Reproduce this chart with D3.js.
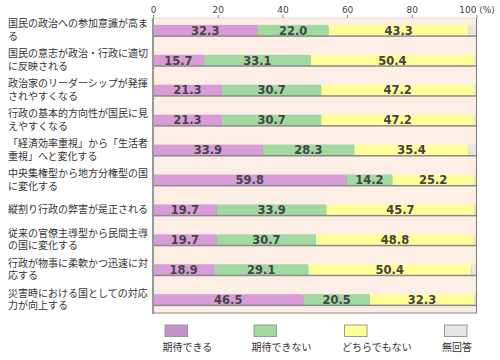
<!DOCTYPE html>
<html><head><meta charset="utf-8">
<script src="https://cdn.jsdelivr.net/npm/d3@7"></script>
<style>
html,body{margin:0;padding:0;background:#fff;}
svg{display:block;}
</style></head>
<body><svg id="c" width="500" height="360"></svg>
<script>
const categories = [
  "国民の政治への参加意識が高ま\nる",
  "国民の意志が政治・行政に適切\nに反映される",
  "政治家のリーダーシップが発揮\nされやすくなる",
  "行政の基本的方向性が国民に見\nえやすくなる",
  "「経済効率重視」から「生活者\n重視」へと変化する",
  "中央集権型から地方分権型の国\nに変化する",
  "縦割り行政の弊害が是正される",
  "従来の官僚主導型から民間主導\nの国に変化する",
  "行政が物事に柔軟かつ迅速に対\n応する",
  "災害時における国としての対応\n力が向上する"
];
const seriesNames = ["期待できる", "期待できない", "どちらでもない", "無回答"];
const expectVals    = [32.3, 15.7, 21.3, 21.3, 33.9, 59.8, 19.7, 19.7, 18.9, 46.5];
const notExpectVals = [22.0, 33.1, 30.7, 30.7, 28.3, 14.2, 33.9, 30.7, 29.1, 20.5];
const neitherVals   = [43.3, 50.4, 47.2, 47.2, 35.4, 25.2, 45.7, 48.8, 50.4, 32.3];
const noAnswerVals  = [2.4, 0.8, 0.8, 0.8, 2.4, 0.8, 0.7, 0.8, 1.6, 0.7];
const tickValues = [0, 20, 40, 60, 80, 100];
const tickLabels = ["0", "20", "40", "60", "80", "100 (%)"];

(function(){
const colors = ["#d99cd9", "#a1d9a1", "#ffff99", "#e6e6e6"];
const legendColors = ["#c691c6", "#a1d9a1", "#ffff99", "#e6e6e6"];

const svg = d3.select("#c");
const pL = 153, pR = 476.5, pT = 18, pB = 313;
const x = d3.scaleLinear().domain([0, 100]).range([pL, pR]);
const y = d3.scaleBand().domain(d3.range(categories.length)).range([pT, pB])
  .paddingInner(0.6).paddingOuter(0.23);

svg.append("rect").attr("x", pL).attr("y", pT).attr("width", pR - pL).attr("height", pB - pT)
  .attr("fill", "#fdeee6");

const allSeries = [expectVals, notExpectVals, neitherVals, noAnswerVals];
const rows = categories.map((c, i) => allSeries.map(s => s[i]));
const stacked = d3.stack().keys([0, 1, 2, 3])(rows);

const bh = y.bandwidth() - 1.5;
svg.append("g").selectAll("rect").data(categories).join("rect")
  .attr("x", x(0)).attr("y", (d, i) => y(i) + 1.5)
  .attr("width", x(100) - x(0)).attr("height", bh)
  .attr("fill", "#8a8a8a");

stacked.forEach((layer, k) => {
  svg.append("g").selectAll("rect").data(layer).join("rect")
    .attr("x", d => x(d[0]))
    .attr("y", (d, i) => y(i))
    .attr("width", d => x(d[1]) - x(d[0]))
    .attr("height", bh)
    .attr("fill", colors[k]);
  if (k < 3) {
    svg.append("g").selectAll("text").data(layer).join("text")
      .attr("x", d => (x(d[0]) + x(d[1])) / 2)
      .attr("y", (d, i) => y(i) + bh / 2 + 0.5)
      .attr("text-anchor", "middle")
      .attr("dominant-baseline", "central")
      .attr("font-family", "DejaVu Sans, Verdana, sans-serif")
      .attr("font-weight", "bold")
      .attr("font-size", "11.5px")
      .attr("fill", "#444")
      .text((d, i) => allSeries[k][i].toFixed(1));
  }
});

svg.append("line").attr("x1", pL).attr("x2", pL).attr("y1", pT).attr("y2", pB + 1)
  .attr("stroke", "#999").attr("stroke-width", 2);
svg.append("line").attr("x1", pR).attr("x2", pR).attr("y1", pT).attr("y2", pB)
  .attr("stroke", "#777").attr("stroke-width", 1);
svg.append("line").attr("x1", pL).attr("x2", pR + 0.5).attr("y1", pB).attr("y2", pB)
  .attr("stroke", "#888").attr("stroke-width", 1);
svg.append("line").attr("x1", pL).attr("x2", pR).attr("y1", pT).attr("y2", pT)
  .attr("stroke", "#e9d9d0").attr("stroke-width", 1);

const axis = d3.axisTop(x).tickValues(tickValues).tickSize(3)
  .tickFormat((d, i) => tickLabels[i]);
const ag = svg.append("g").attr("transform", `translate(0,${pT})`).call(axis);
ag.select(".domain").remove();
ag.selectAll(".tick line").attr("stroke", "#888");
ag.selectAll(".tick text").attr("font-family", "DejaVu Sans, sans-serif").attr("font-size", "9px")
  .attr("fill", "#444").attr("dy", "0.1em");

const lab = svg.append("g");
categories.forEach((c, i) => {
  const lines = c.split("\n");
  const cy = y(i) + bh / 2;
  const lh = 12.5;
  const t = lab.append("text")
    .attr("font-family", "Noto Sans CJK JP, sans-serif")
    .attr("font-size", "10px")
    .attr("fill", "#333");
  lines.forEach((ln, j) => {
    t.append("tspan")
      .attr("x", 8)
      .attr("y", cy + (j - (lines.length - 1) / 2) * lh + 3.6)
      .text(ln);
  });
});

const legX = [165, 254, 344.5, 444.5];
const lg = svg.append("g");
seriesNames.forEach((n, k) => {
  lg.append("rect").attr("x", legX[k]).attr("y", 325).attr("width", 22.5).attr("height", 11.5)
    .attr("fill", legendColors[k]).attr("stroke", "#999").attr("stroke-width", 1);
  lg.append("text").attr("x", legX[k] - 2.5).attr("y", 346)
    .attr("dominant-baseline", "central")
    .attr("font-family", "Noto Sans CJK JP, sans-serif").attr("font-size", "10px")
    .attr("fill", "#333").text(n);
});
})();
</script></body></html>
